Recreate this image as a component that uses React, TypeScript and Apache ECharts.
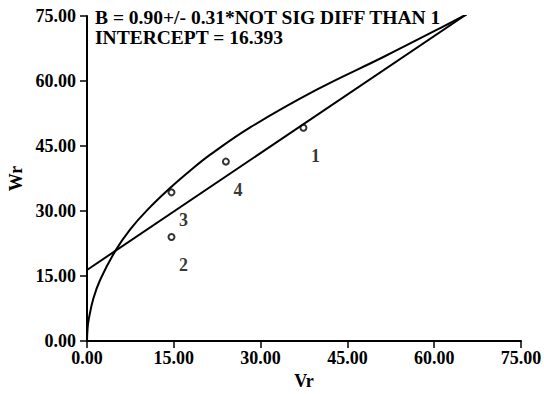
import React, { useEffect, useRef } from "react";
import * as echarts from "echarts";

// Observed points (Vr, Wr) and their labels
const pointX = [37.4, 14.6, 14.6, 24.0];
const pointY = [49.2, 24.0, 34.3, 41.4];
const pointLabels = ["1", "2", "3", "4"];

// Fitted regression line (ends)
const fitX = [0, 65.6];
const fitY = [16.393, 75.4];

// Curve
const curveX = [0, 0.1, 0.3, 1.1, 2.3, 4.9, 7.5, 10.4, 14.6, 17.9, 21.3, 28.2, 39.7, 51.3, 61.6, 65.6];
const curveY = [0, 2.9, 5.0, 9.8, 14.2, 20.8, 25.8, 30.2, 35.6, 39.4, 43.0, 49.3, 58.0, 65.6, 72.6, 75.4];

// Axis settings
const axisMin = 0;
const axisMax = 75;
const axisStep = 15;
const xName = "Vr";
const yName = "Wr";

const annotationLines = ["B = 0.90+/- 0.31*NOT SIG DIFF THAN 1", "INTERCEPT = 16.393"];

const FONT = '"Liberation Serif", "Times New Roman", serif';

export default function App() {
  const ref = useRef<HTMLDivElement>(null);

  useEffect(() => {
    if (!ref.current) return;
    const chart = echarts.init(ref.current, undefined, { renderer: "svg" });

    const labelStyle = {
      fontFamily: FONT,
      fontSize: 18,
      fontWeight: "bold" as const,
      color: "#000",
    };

    const axisCommon = (name: string) => ({
      type: "value" as const,
      min: axisMin,
      max: axisMax,
      interval: axisStep,
      name,
      nameLocation: "middle" as const,
      nameTextStyle: { ...labelStyle },
      axisLine: { show: true, lineStyle: { color: "#000", width: 2 } },
      axisTick: { show: true, inside: false, length: 7, lineStyle: { color: "#000", width: 1.5 } },
      splitLine: { show: false },
    });

    const option: any = {
      animation: false,
      backgroundColor: "#fff",
      grid: { left: 87, right: 23, top: 16, bottom: 53, containLabel: false, outerBoundsMode: "none" },
      xAxis: {
        ...axisCommon(xName),
        nameGap: 28,
        axisLabel: { ...labelStyle, margin: 8, formatter: (v: number) => v.toFixed(2) },
      },
      yAxis: {
        ...axisCommon(yName),
        nameGap: 60,
        nameRotate: 90,
        axisLabel: { ...labelStyle, margin: 11, formatter: (v: number) => v.toFixed(2) },
      },
      graphic: annotationLines.map((t, i) => ({
        type: "text",
        x: 95,
        y: 17 + i * 20,
        style: {
          text: t,
          font: `bold 19.5px ${FONT}`,
          fill: "#000",
          verticalAlign: "middle",
        },
      })),
      series: [
        {
          type: "line",
          data: curveX.map((x, i) => [x, curveY[i]]),
          smooth: 0.4,
          showSymbol: false,
          lineStyle: { color: "#000", width: 2 },
          silent: true,
        },
        {
          type: "line",
          data: fitX.map((x, i) => [x, fitY[i]]),
          showSymbol: false,
          lineStyle: { color: "#000", width: 2 },
          silent: true,
        },
        {
          type: "scatter",
          data: pointX.map((x, i) => ({ value: [x, pointY[i]], name: pointLabels[i] })),
          symbol: "circle",
          symbolSize: 6,
          itemStyle: { color: "#fff", borderColor: "#000", borderWidth: 2 },
          label: {
            show: true,
            position: "inside",
            offset: [12, 28],
            formatter: (p: any) => p.name,
            ...labelStyle,
            textBorderWidth: 0,
          },
          silent: true,
        },
      ],
    };

    chart.setOption(option);
    return () => chart.dispose();
  }, []);

  return (
    <div
      ref={ref}
      style={{ position: "absolute", left: 0, top: 0, width: 544, height: 394 }}
    />
  );
}
